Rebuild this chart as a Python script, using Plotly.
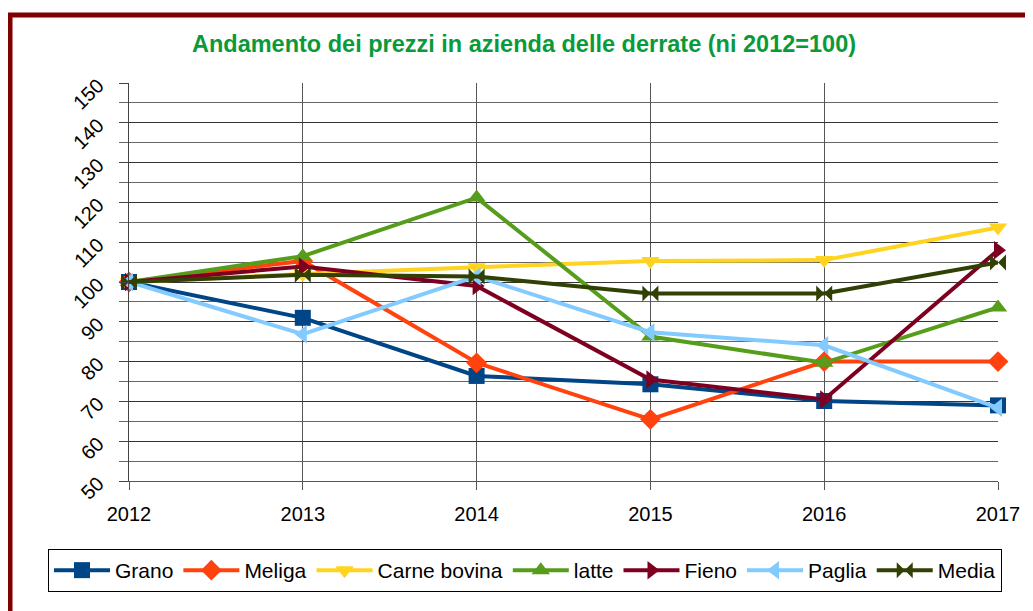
import plotly.graph_objects as go

years = [2012, 2013, 2014, 2015, 2016, 2017]
grano = [100, 91, 76.4, 74.3, 70.1, 69]
meliga = [100, 105.3, 79.7, 65.5, 80, 80]
carne_bovina = [100, 102, 103.7, 105.3, 105.5, 113.7]
latte = [100, 106.5, 121.2, 86.3, 79.7, 93.6]
fieno = [100, 103.9, 99, 75.5, 70.5, 108]
paglia = [100, 86.9, 101.4, 87.4, 84.1, 68.4]
media = [100, 101.8, 101.4, 97.1, 97.1, 104.9]

series = [
    ("Grano", grano, "#004586", "square"),
    ("Meliga", meliga, "#FF420E", "diamond"),
    ("Carne bovina", carne_bovina, "#FFD320", "triangle-down"),
    ("latte", latte, "#579D1C", "triangle-up"),
    ("Fieno", fieno, "#7E0021", "triangle-right"),
    ("Paglia", paglia, "#83CAFF", "triangle-left"),
    ("Media", media, "#314004", "bowtie"),
]

FONT = "Arial, Liberation Sans, sans-serif"

fig = go.Figure()
for name, vals, color, sym in series:
    fig.add_trace(go.Scatter(
        x=years, y=vals, name=name, mode="lines+markers",
        line=dict(color=color, width=4),
        marker=dict(symbol=sym, size=16, color=color),
        cliponaxis=False,
    ))

OFF = 8  # page body margin
W, H = 1033, 611
# target pixel positions in screenshot
X0, X1, Y0, Y1 = 129, 998, 83, 481
L, T = X0 - OFF, Y0 - OFF
pw, ph = X1 - X0, Y1 - Y0
R, B = W - L - pw, H - T - ph

def px(xs):
    return (xs - X0) / pw

def py(ys):
    return (Y1 - ys) / ph

fig.update_layout(
    width=W, height=H,
    margin=dict(l=L, r=R, t=T, b=B, autoexpand=False),
    paper_bgcolor="white", plot_bgcolor="white",
    font=dict(family=FONT, size=20, color="black"),
    title=dict(text="<b>Andamento dei prezzi in azienda delle derrate (ni 2012=100)</b>",
               x=(524 - OFF) / W, xanchor="center", xref="container",
               y=1 - (44 - OFF) / H, yanchor="middle", yref="container",
               font=dict(family=FONT, size=23.5, color="#0A9A3A")),
    showlegend=True,
    legend=dict(orientation="h", x=px(48), xanchor="left", y=py(549), yanchor="top",
                bordercolor="black", borderwidth=1, bgcolor="white",
                font=dict(family=FONT, size=21), itemwidth=56,
                tracegroupgap=0),
    xaxis=dict(range=[2012, 2017], tickvals=years, ticktext=[str(y) for y in years],
               showgrid=True, gridcolor="#555", gridwidth=1,
               showline=True, linecolor="#555", mirror=False,
               ticks="outside", ticklen=8, tickcolor="#555", zeroline=False,
               tickfont=dict(size=20), ticklabelstandoff=7),
    yaxis=dict(range=[50, 150], tickvals=list(range(50, 151, 10)),
               showgrid=True, gridcolor="#333", gridwidth=1,
               showline=True, linecolor="#444", zeroline=False,
               ticks="outside", ticklen=9, tickcolor="#444",
               tickangle=-45, tickfont=dict(size=20), ticklabelstandoff=17,
               minor=dict(dtick=5, showgrid=True, gridcolor="#666", ticks="outside",
                          ticklen=9, tickcolor="#666")),
    shapes=[
        dict(type="line", xref="paper", yref="paper", x0=px(8), x1=px(1045), y0=py(15), y1=py(15),
             line=dict(color="#800000", width=5)),
        dict(type="line", xref="paper", yref="paper", x0=px(10), x1=px(10), y0=py(13), y1=py(625),
             line=dict(color="#800000", width=5)),
    ],
)

fig.write_html("out.html")
